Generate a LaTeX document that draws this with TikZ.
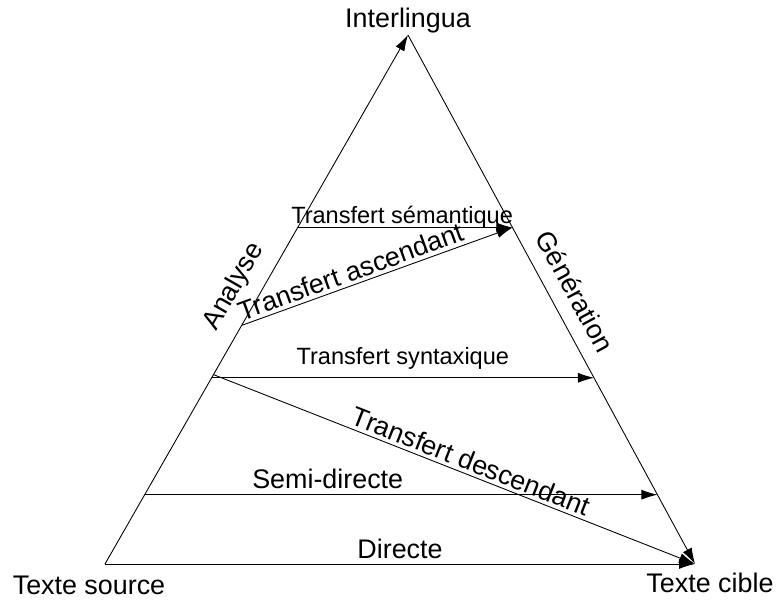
\documentclass[tikz,border=0pt]{standalone}
\usepackage{fontspec}
\setmainfont{Liberation Sans}
\usetikzlibrary{arrows.meta,calc}

\tikzset{
  lbl/.style={font=\fontsize{15.3}{18}\selectfont, inner sep=0pt, anchor=base},
  lblsm/.style={font=\fontsize{13.4}{16}\selectfont, inner sep=0pt, anchor=base},
}

\begin{document}
\begin{tikzpicture}[>={Latex[length=3.2mm,width=2mm]}, line width=0.5pt]
\useasboundingbox (0,0) rectangle (15.52,12.02);

% the three corners
\coordinate (src) at (2.10,0.74);
\coordinate (inter) at (8.16,11.32);
\coordinate (cible) at (13.90,0.74);
\node[lbl] (tsrc) at (1.78,0.12) {Texte source};
\node[lbl] (tcible) at (14.20,0.16) {Texte cible};
\node[lbl] (tinter) at (8.16,11.46) {Interlingua};

% points on the two sides
\coordinate (semL) at ($(src)!0.636!(inter)$);
\coordinate (semR) at ($(inter)!0.364!(cible)$);
\coordinate (ascL) at ($(src)!0.451!(inter)$);
\coordinate (synL) at ($(src)!0.352!(inter)$);
\coordinate (synR) at ($(inter)!0.648!(cible)$);
\coordinate (desL) at ($(src)!0.358!(inter)$);
\coordinate (sdL) at ($(src)!0.131!(inter)$);
\coordinate (sdR) at ($(inter)!0.869!(cible)$);

% the sides
\draw[->] (src) -- (inter) node[lbl, pos=0.5, sloped, yshift=0.38cm] {Analyse};
\draw[->] (inter) -- (cible) node[lbl, pos=0.507, sloped, yshift=0.30cm] {Génération};

% the transfers
\draw[->] (semL) -- (semR) node[lblsm, pos=0.486, yshift=0.08cm] {Transfert sémantique};
\draw[->] (ascL) -- (semR) node[lbl, pos=0.42, sloped, yshift=0.08cm] {Transfert ascendant};
\draw[->] (synL) -- (synR) node[lblsm, midway, yshift=0.26cm] {Transfert syntaxique};
\draw[->] (desL) -- (cible) node[lbl, pos=0.525, sloped, yshift=0.08cm] {Transfert descendant};
\draw[->] (sdL) -- (sdR) node[lbl, pos=0.357, yshift=0.12cm] {Semi-directe};
\draw[->] (src) -- (cible) node[lbl, midway, yshift=0.10cm] {Directe};
\end{tikzpicture}
\end{document}
